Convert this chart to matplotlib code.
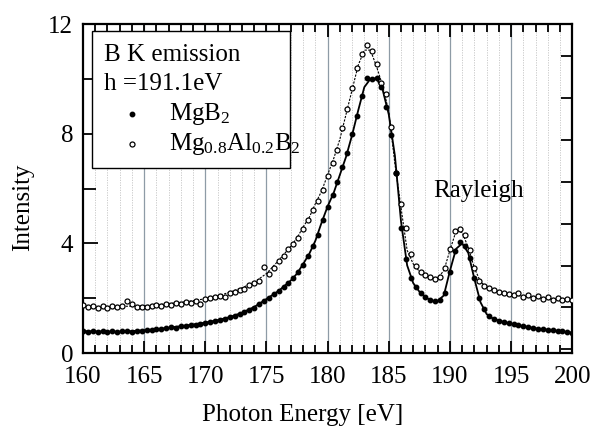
import matplotlib
matplotlib.use('Agg')
import matplotlib.pyplot as plt
from matplotlib.patches import Rectangle
from matplotlib.ticker import MultipleLocator
import numpy as np

plt.rcParams['font.family'] = ['Liberation Serif', 'DejaVu Serif']
plt.rcParams['mathtext.fontset'] = 'custom'
plt.rcParams['mathtext.rm'] = 'Liberation Serif'
plt.rcParams['mathtext.it'] = 'Liberation Serif:italic'

# measured points, every 0.4 eV from 160 to 200
energy_pts = np.linspace(160, 200, 101)

mgb2_pts = [
    0.82, 0.77, 0.80, 0.78, 0.81, 0.77, 0.79, 0.76, 0.79, 0.80,
    0.78, 0.82, 0.81, 0.84, 0.85, 0.86, 0.89, 0.90, 0.94, 0.93,
    0.97, 1.00, 1.02, 1.04, 1.07, 1.10, 1.13, 1.17, 1.21, 1.25,
    1.31, 1.35, 1.42, 1.49, 1.58, 1.66, 1.80, 1.90, 2.02, 2.14,
    2.26, 2.40, 2.56, 2.72, 2.97, 3.22, 3.55, 3.90, 4.32, 4.86,
    5.32, 5.76, 6.25, 6.78, 7.28, 7.98, 8.66, 9.38, 10.05, 9.98,
    10.02, 9.72, 8.98, 7.95, 6.55, 4.55, 3.42, 2.75, 2.42, 2.20,
    2.04, 1.92, 1.88, 1.95, 2.20, 2.95, 3.72, 4.05, 3.92, 3.45,
    2.75, 2.02, 1.60, 1.34, 1.25, 1.18, 1.14, 1.08, 1.06, 1.01,
    0.98, 0.95, 0.92, 0.89, 0.88, 0.84, 0.83, 0.81, 0.79, 0.78,
    0.73]

mgal_pts = [
    1.74, 1.68, 1.72, 1.66, 1.70, 1.65, 1.71, 1.68, 1.72, 1.88,
    1.78, 1.69, 1.67, 1.68, 1.72, 1.75, 1.73, 1.78, 1.76, 1.82,
    1.80, 1.86, 1.83, 1.90, 1.80, 1.96, 2.00, 2.03, 2.08, 2.05,
    2.18, 2.22, 2.30, 2.35, 2.48, 2.55, 2.62, 3.15, 2.88, 3.12,
    3.35, 3.55, 3.78, 3.98, 4.18, 4.52, 4.85, 5.20, 5.55, 5.95,
    6.45, 6.95, 7.40, 8.22, 8.90, 9.66, 10.40, 10.90, 11.25, 11.00,
    10.56, 9.86, 9.45, 8.25, 6.55, 5.45, 4.55, 3.62, 3.18, 2.96,
    2.86, 2.78, 2.70, 2.78, 3.10, 3.80, 4.46, 4.52, 4.30, 3.75,
    3.10, 2.62, 2.45, 2.38, 2.30, 2.24, 2.20, 2.16, 2.12, 2.18,
    2.05, 2.10, 2.02, 2.08, 1.98, 2.03, 1.95, 2.00, 1.94, 1.97,
    1.95]

# fitted curves
energy_fit = [160, 161, 162, 163, 164, 165, 166, 167, 168, 169, 170, 171, 172,
              173, 174, 175, 176, 177, 177.5, 178, 178.5, 179, 179.5, 180,
              180.5, 181, 181.5, 182, 182.5, 183, 183.5, 184, 184.5, 185,
              185.5, 186, 186.5, 187, 187.5, 188, 188.5, 189, 189.5, 190,
              190.5, 191, 191.5, 192, 192.5, 193, 193.5, 194, 194.5, 195,
              195.5, 196, 196.5, 197, 197.5, 198, 198.5, 199, 199.5, 200]

mgb2_fit = [0.80, 0.79, 0.78, 0.78, 0.80, 0.83, 0.87, 0.92, 0.98, 1.04, 1.11,
            1.20, 1.31, 1.47, 1.68, 1.97, 2.27, 2.65, 2.90, 3.25, 3.62, 4.10,
            4.75, 5.35, 5.85, 6.50, 7.15, 7.95, 8.85, 9.70, 10.00, 10.02,
            9.60, 8.70, 7.20, 4.80, 3.20, 2.55, 2.24, 2.04, 1.90, 1.90, 2.10,
            3.00, 3.80, 4.00, 3.65, 2.70, 1.85, 1.42, 1.26, 1.18, 1.12, 1.07,
            1.02, 0.98, 0.94, 0.90, 0.87, 0.85, 0.82, 0.80, 0.77, 0.74]

mgal_fit = [1.70, 1.69, 1.69, 1.70, 1.71, 1.73, 1.76, 1.80, 1.85, 1.91, 1.98,
            2.08, 2.22, 2.38, 2.58, 2.90, 3.38, 3.90, 4.20, 4.60, 4.95, 5.45,
            5.90, 6.50, 7.10, 7.80, 8.70, 9.60, 10.50, 11.05, 11.05, 10.45,
            9.75, 8.80, 6.90, 5.30, 3.75, 3.25, 2.98, 2.84, 2.74, 2.75, 3.00,
            3.75, 4.45, 4.40, 3.85, 3.10, 2.60, 2.40, 2.30, 2.22, 2.18, 2.13,
            2.10, 2.07, 2.05, 2.03, 2.01, 1.99, 1.97, 1.96, 1.95, 1.94]

right_ticks = [0.14, 1.67, 3.19, 4.72, 6.24, 7.77, 9.29, 10.82]

fig = plt.figure(figsize=(5.93, 4.30), dpi=100)
ax = fig.add_axes([0.140, 0.179, 0.825, 0.765])

# grid: solid every 5 eV, dotted every 1 eV
for e in range(161, 200):
    if e % 5 == 0:
        ax.axvline(e, color='#8e9ba6', lw=0.9, zorder=0)
    else:
        ax.axvline(e, color='#c4c4c4', lw=0.6, ls=(0, (1.5, 1.5)), zorder=0)

ax.plot(energy_fit, mgal_fit, color='black', lw=0.8, ls=(0, (2, 1.2)), zorder=2)
ax.plot(energy_fit, mgb2_fit, color='black', lw=1.3, zorder=2)
ax.plot(energy_pts, mgal_pts, 'o', ms=3.6, mfc='white', mec='black', mew=0.9, zorder=3)
ax.plot(energy_pts, mgb2_pts, 'o', ms=3.2, color='black', zorder=3)

ax.set_xlim(160, 200)
ax.set_ylim(0, 12)
ax.xaxis.set_major_locator(MultipleLocator(5))
ax.xaxis.set_minor_locator(MultipleLocator(1))
ax.yaxis.set_major_locator(MultipleLocator(4))
ax.yaxis.set_minor_locator(MultipleLocator(2))
ax.tick_params(axis='x', which='both', direction='in', top=True, width=1.3,
               labelsize=18, pad=9)
ax.tick_params(axis='x', which='major', length=9)
ax.tick_params(axis='x', which='minor', length=6)
ax.tick_params(axis='y', which='both', direction='in', right=False, width=1.3,
               labelsize=18, pad=7)
ax.tick_params(axis='y', which='major', length=11)
ax.tick_params(axis='y', which='minor', length=9)
for s in ax.spines.values():
    s.set_linewidth(1.6)

# odd tick spacing on the right side
ax2 = ax.twinx()
ax2.set_ylim(0, 12)
ax2.set_yticks(right_ticks)
ax2.tick_params(axis='y', direction='in', length=8, width=1.3, labelright=False)
for s in ax2.spines.values():
    s.set_visible(False)

ax.set_xlabel('Photon Energy [eV]', fontsize=18)
ax.xaxis.set_label_coords(0.448, -0.155)
ax.set_ylabel('Intensity', fontsize=18)
ax.yaxis.set_label_coords(-0.100, 0.444)

# legend box
ax.add_patch(Rectangle((0.018, 0.562), 0.405, 0.417, transform=ax.transAxes,
                       facecolor='white', edgecolor='black', lw=1.0, zorder=4))
tx = 0.043
ax.text(tx, 0.905, 'B K emission', transform=ax.transAxes, fontsize=18,
        va='center', zorder=5)
ax.text(tx, 0.818, 'h =191.1eV', transform=ax.transAxes, fontsize=18,
        va='center', zorder=5)
ax.plot([0.100], [0.728], 'o', ms=3.2, color='black', transform=ax.transAxes, zorder=5)
ax.plot([0.100], [0.634], 'o', ms=3.6, mfc='white', mec='black', mew=0.9,
        transform=ax.transAxes, zorder=5)
ax.text(0.176, 0.728, r'MgB$_2$', transform=ax.transAxes, fontsize=18,
        va='center', zorder=5)
ax.text(0.176, 0.634, r'Mg$_{0.8}$Al$_{0.2}$B$_2$', transform=ax.transAxes,
        fontsize=18, va='center', zorder=5)

ax.text(192.3, 5.9, 'Rayleigh', fontsize=18, ha='center', va='center')

fig.savefig('out.png', dpi=100)
